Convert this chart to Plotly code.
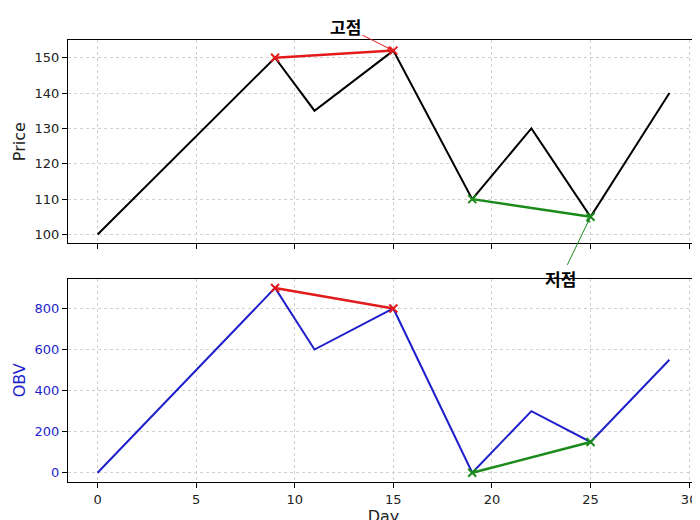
import plotly.graph_objects as go
from plotly.subplots import make_subplots

days = [0, 9, 11, 15, 19, 22, 25, 29]
price = [100, 150, 135, 152, 110, 130, 105, 140]
obv = [0, 900, 600, 800, 0, 300, 150, 550]

top_days, top_price, top_obv = [9, 15], [150, 152], [900, 800]
low_days, low_price, low_obv = [19, 25], [110, 105], [0, 150]

fig = make_subplots(rows=2, cols=1, shared_xaxes=True, vertical_spacing=0.08)

fig.add_trace(go.Scatter(x=days, y=price, mode='lines', line=dict(color='black', width=2)), 1, 1)
fig.add_trace(go.Scatter(x=top_days, y=top_price, mode='lines+markers', line=dict(color='#e31a1c', width=2.5),
                         marker=dict(symbol='x-thin', size=8, line=dict(color='#e31a1c', width=2))), 1, 1)
fig.add_trace(go.Scatter(x=low_days, y=low_price, mode='lines+markers', line=dict(color='#1a8a1a', width=2.5),
                         marker=dict(symbol='x-thin', size=8, line=dict(color='#1a8a1a', width=2))), 1, 1)

fig.add_trace(go.Scatter(x=days, y=obv, mode='lines', line=dict(color='#1f1fcc', width=2)), 2, 1)
fig.add_trace(go.Scatter(x=top_days, y=top_obv, mode='lines+markers', line=dict(color='#e31a1c', width=2.5),
                         marker=dict(symbol='x-thin', size=8, line=dict(color='#e31a1c', width=2))), 2, 1)
fig.add_trace(go.Scatter(x=low_days, y=low_obv, mode='lines+markers', line=dict(color='#1a8a1a', width=2.5),
                         marker=dict(symbol='x-thin', size=8, line=dict(color='#1a8a1a', width=2))), 2, 1)

# annotations for peak / trough
fig.add_annotation(x=15, y=152, xref='x', yref='y', text='<b>고점</b>', ax=-48, ay=-24,
                   showarrow=True, arrowhead=2, arrowsize=0.8, arrowwidth=1, arrowcolor='#e31a1c',
                   font=dict(size=17, color='black', family='Noto Sans CJK KR'), standoff=2)
fig.add_annotation(x=25, y=105, xref='x', yref='y', text='<b>저점</b>', ax=-30, ay=62,
                   showarrow=True, arrowhead=2, arrowsize=0.8, arrowwidth=1, arrowcolor='#1a8a1a',
                   font=dict(size=17, color='black', family='Noto Sans CJK KR'), standoff=2)

axis_style = dict(showgrid=True, gridcolor='#d0d0d0', griddash='dot', gridwidth=1,
                  showline=True, linecolor='black', mirror=True, ticks='outside',
                  tickcolor='black', zeroline=False)
fig.update_xaxes(range=[-1.5, 30.5], dtick=5, **axis_style)
fig.update_xaxes(title_text='Day', title_standoff=2, row=2, col=1)
fig.update_yaxes(**axis_style)
fig.update_yaxes(range=[97.5, 155], dtick=10, title_text='Price', title_standoff=4, row=1, col=1)
fig.update_yaxes(range=[-45, 945], dtick=200, title_text='OBV', title_standoff=4, title_font=dict(color='#1f1fcc'),
                 tickfont=dict(color='#1f1fcc'), row=2, col=1)

fig.update_layout(width=700, height=520, showlegend=False, plot_bgcolor='white', paper_bgcolor='white',
                  margin=dict(l=60, r=8, t=32, b=44),
                  font=dict(family='DejaVu Sans', size=13, color='#222'))

fig.write_html("out.html")
